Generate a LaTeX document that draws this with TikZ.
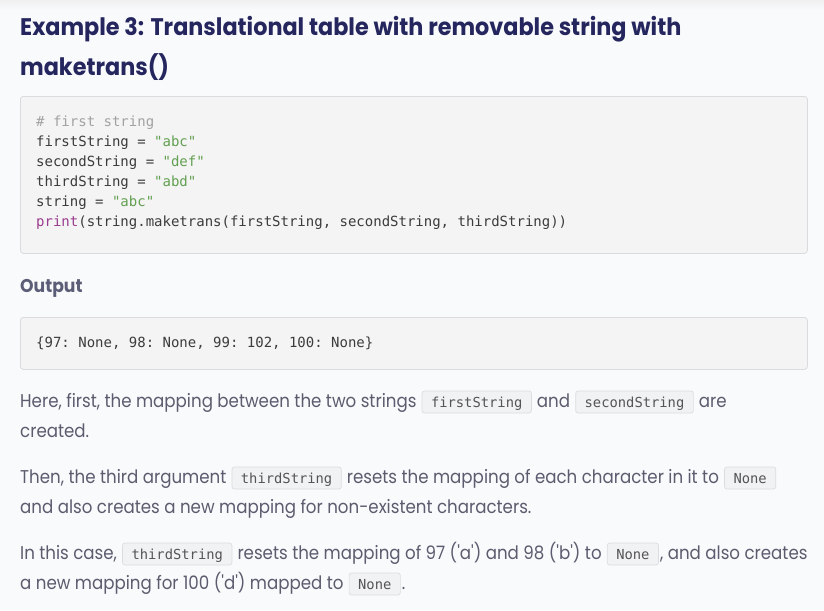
\documentclass[tikz,border=0pt]{standalone}
\usepackage{fontspec}
\setmainfont{Poppins}
\setmonofont{DejaVu Sans Mono}
\newfontfamily\bodyfont[FakeStretch=0.9]{Poppins}
\newfontfamily\headfont[FakeStretch=0.93]{Poppins}
\definecolor{pagebg}{HTML}{F9FAFC}
\definecolor{titlecol}{HTML}{25265E}
\definecolor{headcol}{HTML}{5C5E78}
\definecolor{bodycol}{HTML}{5B5C6E}
\definecolor{boxfill}{HTML}{F4F4F5}
\definecolor{boxline}{HTML}{DADBDE}
\definecolor{codecol}{HTML}{3C3C3C}
\definecolor{strcol}{HTML}{62A050}
\definecolor{comcol}{HTML}{A2A2A2}
\definecolor{funcol}{HTML}{9B3C8E}
\definecolor{iccol}{HTML}{555555}
\definecolor{icfill}{HTML}{F1F2F4}
\definecolor{icline}{HTML}{DCDDE0}
\tikzset{
  titletext/.style={anchor=base west, inner sep=0pt, text=titlecol, font=\headfont\bfseries\fontsize{24pt}{28pt}\selectfont},
  headtext/.style={anchor=base west, inner sep=0pt, text=headcol, font=\headfont\bfseries\fontsize{18.5pt}{22pt}\selectfont},
  bodytext/.style={anchor=base west, inner sep=0pt, text=bodycol, font=\bodyfont\fontsize{18.5pt}{22pt}\selectfont},
  codeline/.style={anchor=base west, inner sep=0pt, text=codecol, font=\ttfamily\fontsize{14pt}{16pt}\selectfont},
  codebox/.style={anchor=north west, draw=boxline, fill=boxfill, rounded corners=3pt, line width=0.8pt, inner sep=0pt},
  ic/.style={anchor=base west, draw=icline, fill=icfill, rounded corners=2.5pt, line width=0.7pt,
    text=iccol, font=\ttfamily\fontsize{13.8pt}{16pt}\selectfont,
    inner xsep=9pt, inner ysep=4.5pt, text height=11.5pt, text depth=1.5pt}
}
\newcommand{\strc}[1]{\textcolor{strcol}{#1}}
\begin{document}
\begin{tikzpicture}[x=1pt,y=-1pt]
\fill[pagebg] (0,0) rectangle (824,610);
\shade[top color=black!6, bottom color=pagebg] (0,0) rectangle (824,10);
\useasboundingbox (0,0) rectangle (824,610);

% title
\node[titletext] (t1) at (20,36) {Example 3: Translational table with removable string with};
\node[titletext] (t2) at (20,75) {maketrans()};

% code block
\node[codebox, minimum width=787pt, minimum height=157pt] (code) at (20,96) {};
\node[codeline, text=comcol] (l1) at (36,126) {\# first string};
\node[codeline] (l2) at (36,146) {firstString = \strc{"abc"}};
\node[codeline] (l3) at (36,166) {secondString = \strc{"def"}};
\node[codeline] (l4) at (36,186) {thirdString = \strc{"abd"}};
\node[codeline] (l5) at (36,206) {string = \strc{"abc"}};
\node[codeline] (l6) at (36,226) {\textcolor{funcol}{print}(string.maketrans(firstString, secondString, thirdString))};

% output
\node[headtext] (out) at (20,292) {Output};
\node[codebox, minimum width=787pt, minimum height=52pt] (outbox) at (20,317) {};
\node[codeline] (o1) at (36,347) {\{97: None, 98: None, 99: 102, 100: None\}};

% paragraph 1
\node[bodytext] (p1a) at (20,407) {Here, first, the mapping between the two strings};
\node[ic] (c1) at ([xshift=5pt]p1a.base east) {firstString};
\node[bodytext] (p1b) at ([xshift=5pt]c1.base east) {and};
\node[ic] (c2) at ([xshift=5pt]p1b.base east) {secondString};
\node[bodytext] (p1c) at ([xshift=5pt]c2.base east) {are};
\node[bodytext] (p1d) at (20,437) {created.};

% paragraph 2
\node[bodytext] (p2a) at (20,483) {Then, the third argument};
\node[ic] (c3) at ([xshift=5pt]p2a.base east) {thirdString};
\node[bodytext] (p2b) at ([xshift=5pt]c3.base east) {resets the mapping of each character in it to};
\node[ic] (c4) at ([xshift=5pt]p2b.base east) {None};
\node[bodytext] (p2c) at (20,513) {and also creates a new mapping for non-existent characters.};

% paragraph 3
\node[bodytext] (p3a) at (20,559) {In this case,};
\node[ic] (c5) at ([xshift=5pt]p3a.base east) {thirdString};
\node[bodytext] (p3b) at ([xshift=5pt]c5.base east) {resets the mapping of 97 (\char39 a\char39) and 98 (\char39 b\char39) to};
\node[ic] (c6) at ([xshift=5pt]p3b.base east) {None};
\node[bodytext] (p3c) at ([xshift=1pt]c6.base east) {, and also creates};
\node[bodytext] (p3d) at (20,589) {a new mapping for 100 (\char39 d\char39) mapped to};
\node[ic] (c7) at ([xshift=5pt]p3d.base east) {None};
\node[bodytext] (p3e) at ([xshift=1pt]c7.base east) {.};
\end{tikzpicture}
\end{document}
